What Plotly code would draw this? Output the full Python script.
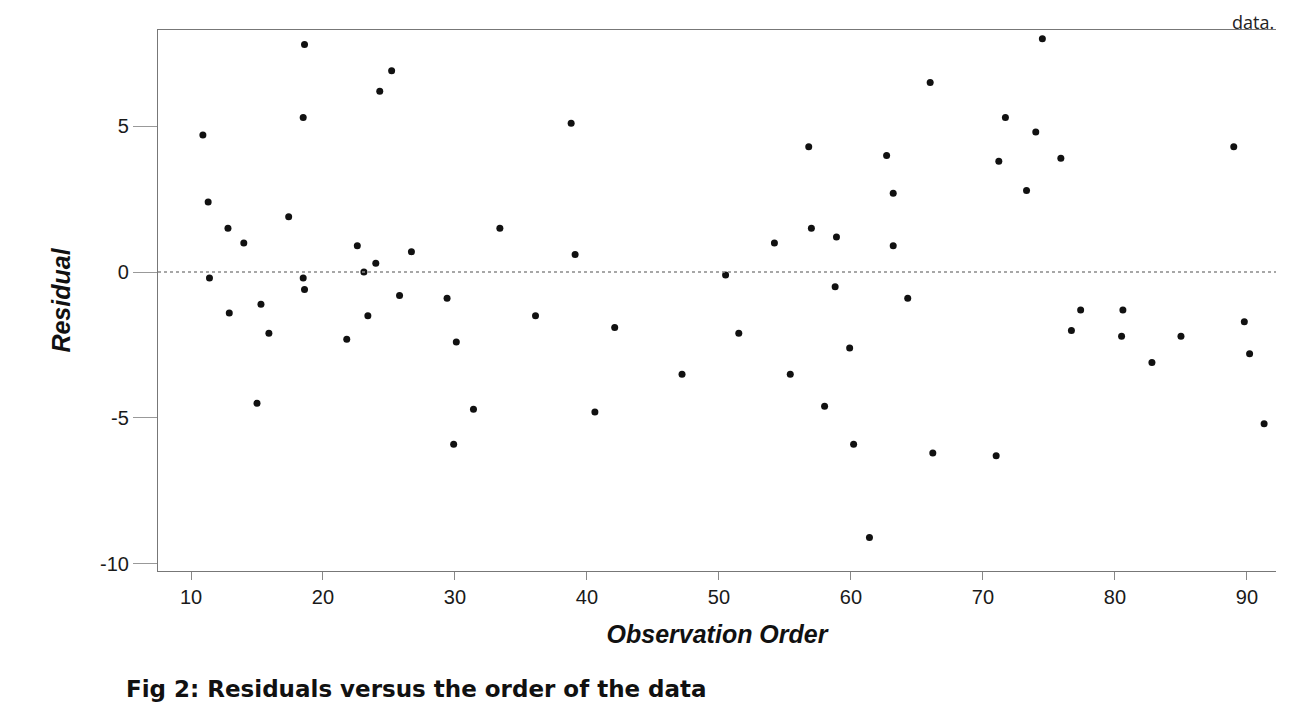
import plotly.graph_objects as go

# Observation order (x) and residual (y)
obs = [10.9, 11.3, 11.4, 12.8, 12.9, 14.0, 15.0, 15.3, 15.9, 17.4,
       18.5, 18.5, 18.6, 18.6, 21.8, 22.6, 23.1, 23.4, 24.0, 24.3,
       25.2, 25.8, 26.7, 29.4, 29.9, 30.1, 31.4, 33.4, 36.1, 38.8,
       39.1, 40.6, 42.1, 47.2, 50.5, 51.5, 54.2, 55.4, 56.8, 57.0,
       58.0, 58.8, 58.9, 59.9, 60.2, 61.4, 62.7, 63.2, 63.2, 64.3,
       66.0, 66.2, 71.0, 71.2, 71.7, 73.3, 74.0, 74.5, 75.9, 76.7,
       77.4, 80.5, 80.6, 82.8, 85.0, 89.0, 89.8, 90.2, 91.3]
residual = [4.7, 2.4, -0.2, 1.5, -1.4, 1.0, -4.5, -1.1, -2.1, 1.9,
            5.3, -0.2, 7.8, -0.6, -2.3, 0.9, 0.0, -1.5, 0.3, 6.2,
            6.9, -0.8, 0.7, -0.9, -5.9, -2.4, -4.7, 1.5, -1.5, 5.1,
            0.6, -4.8, -1.9, -3.5, -0.1, -2.1, 1.0, -3.5, 4.3, 1.5,
            -4.6, -0.5, 1.2, -2.6, -5.9, -9.1, 4.0, 2.7, 0.9, -0.9,
            6.5, -6.2, -6.3, 3.8, 5.3, 2.8, 4.8, 8.0, 3.9, -2.0,
            -1.3, -2.2, -1.3, -3.1, -2.2, 4.3, -1.7, -2.8, -5.2]

x_ticks = [10, 20, 30, 40, 50, 60, 70, 80, 90]
x_tick_labels = ["10", "20", "30", "40", "50", "60", "70", "80", "90"]
y_ticks = [5, 0, -5, -10]
y_tick_labels = ["5", "0", "-5", "-10"]

fig = go.Figure()
fig.add_trace(go.Scatter(
    x=obs, y=residual, mode="markers",
    marker=dict(color="#111111", size=7, symbol="circle"),
    showlegend=False,
))

# dotted zero reference line
fig.add_hline(y=0, line=dict(color="#8a8a8a", width=1.5, dash="dot"))

axis_font = dict(family="Liberation Sans, Arial, sans-serif", size=20, color="#1a1a1a")
title_font = dict(family="Liberation Sans, Arial, sans-serif", size=25, color="#111111")

fig.update_layout(
    width=1293, height=713,
    paper_bgcolor="white", plot_bgcolor="white",
    margin=dict(l=150, r=25, t=22, b=150),
    font=axis_font,
    xaxis=dict(
        range=[7.5, 92.2], tickvals=x_ticks, ticktext=x_tick_labels,
        showgrid=False, zeroline=False,
        showline=True, linecolor="#777777", linewidth=1.2, mirror=True,
        ticks="outside", ticklen=8, tickcolor="#888888",
        tickfont=axis_font,
        title=dict(text="<b><i>Observation Order</i></b>", font=title_font, standoff=18),
    ),
    yaxis=dict(
        range=[-10.25, 8.3], tickvals=y_ticks, ticktext=y_tick_labels,
        showgrid=False, zeroline=False,
        showline=True, linecolor="#777777", linewidth=1.2,
        ticks="outside", ticklen=24, tickcolor="#999999",
        tickfont=axis_font,
        title=dict(text="<b><i>Residual</i></b>", font=title_font, standoff=22),
    ),
)

fig.add_annotation(
    text="<b>Fig 2: Residuals versus the order of the data</b>",
    xref="paper", yref="paper", x=-0.03, y=-0.19, xanchor="left", yanchor="top",
    showarrow=False,
    font=dict(family="DejaVu Sans, Verdana, sans-serif", size=23, color="#111111"),
)
fig.add_annotation(
    text="data.", xref="paper", yref="paper", x=1.0, y=1.04,
    xanchor="right", yanchor="top", showarrow=False,
    font=dict(family="Open Sans, sans-serif", size=18, color="#222222"),
)

fig.write_html("out.html")
